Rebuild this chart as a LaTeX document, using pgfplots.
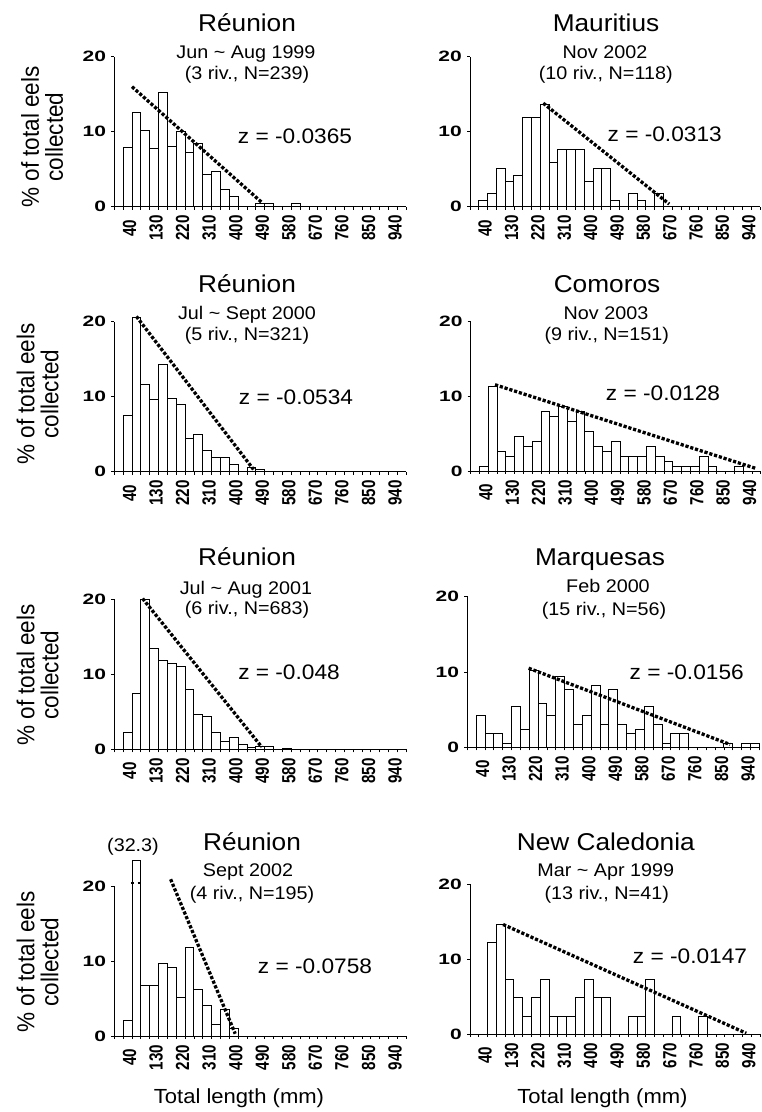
\documentclass[border=0pt]{standalone}
\usepackage{pgfplots}
\pgfplotsset{compat=1.18}
\usepackage{fontspec}
\setmainfont{Liberation Sans}[FakeStretch=1.08]
\newfontfamily\ylabfont{Liberation Sans}[FakeStretch=0.92]
\newfontfamily\ytickfont{Liberation Sans}[FakeStretch=1.4]
\newfontfamily\xtickfont{Liberation Sans}[FakeStretch=0.8]

\pgfplotsset{
  panel/.style={
    scale only axis, width=292pt, height=150pt, anchor=south west,
    xmin=-5, xmax=985, ymin=0, ymax=20,
    axis lines=left, axis line style={-, line width=0.9pt, black},
    clip=false,
    xtick={40,130,...,940},
    xticklabels={40,130,220,310,400,490,580,670,760,850,940},
    minor xtick={-5,25,...,985},
    ytick={0,10,20}, yticklabels={0,10,20}, minor ytick={0,10,20},
    major tick length=0pt, minor tick length=3pt, tick align=outside,
    tick style={black, line width=0.8pt},
    xticklabel style={font=\xtickfont\bfseries\fontsize{19}{19}\selectfont,
      yshift=-21.5pt, xshift=2pt, rotate=90, anchor=center, inner sep=0pt},
    yticklabel style={font=\ytickfont\bfseries\fontsize{15}{15}\selectfont,
      anchor=east, inner sep=0pt, xshift=-8pt},
  },
  rpanel/.style={panel, width=290pt},
  bars/.style={ybar, bar width=30, bar shift=0pt, fill=white, draw=black, line width=0.9pt},
  fit/.style={black, line width=3.3pt, dash pattern=on 3.2pt off 1.8pt, no marks, line cap=butt},
}
\newcommand{\ttl}[3]{\node[anchor=base, inner sep=0pt, font=\fontsize{24.3}{24.3}\selectfont] at (#1pt,#2pt) {#3};}
\newcommand{\sub}[3]{\node[anchor=base, inner sep=0pt, font=\fontsize{18.3}{18.3}\selectfont] at (#1pt,#2pt) {#3};}
\newcommand{\zz}[3]{\node[anchor=base, inner sep=0pt, font=\fontsize{21}{21}\selectfont] at (#1pt,#2pt) {#3};}
\newcommand{\ylab}[2]{\node[rotate=90, anchor=center, align=center, inner sep=0pt, font=\ylabfont\fontsize{24.5}{24}\selectfont] at (#1pt,#2pt) {\% of total eels\\collected};}
\newcommand{\xlab}[2]{\node[anchor=base, inner sep=0pt, font=\fontsize{20.4}{20.4}\selectfont] at (#1pt,#2pt) {Total length (mm)};}

\begin{document}
\begin{tikzpicture}
\useasboundingbox (0pt,0pt) rectangle (761pt,1112pt);

% ---------- Row 1 left: Reunion 1999
\begin{axis}[panel, at={(114.3pt,905.3pt)}]
\addplot[bars] coordinates {(40,7.9) (70,12.6) (100,10.1) (130,7.7) (160,15.2) (190,8.0) (220,10.0) (250,7.2) (280,8.4) (310,4.3) (340,4.7) (370,2.3) (400,1.3) (490,0.4) (520,0.4) (610,0.4)};
\addplot[fit] coordinates {(55,16.0) (497,0.5)};
\end{axis}
\ttl{247}{1080.3}{Réunion}
\sub{246}{1053.3}{Jun \textasciitilde{} Aug 1999}
\sub{247}{1032}{(3 riv., N=239)}
\zz{295}{968}{z = -0.0365}
\ylab{42}{975}

% ---------- Row 1 right: Mauritius
\begin{axis}[rpanel, at={(470pt,905.3pt)}]
\addplot[bars] coordinates {(40,0.85) (70,1.7) (100,5.1) (130,3.4) (160,4.2) (190,11.9) (220,11.9) (250,13.6) (280,5.9) (310,7.6) (340,7.6) (370,7.6) (400,3.4) (430,5.1) (460,5.1) (490,0.85) (550,1.7) (580,0.85) (640,1.7)};
\addplot[fit] coordinates {(245,13.8) (675,0.35)};
\end{axis}
\ttl{606}{1080.3}{Mauritius}
\sub{605}{1053.7}{Nov 2002}
\sub{605.7}{1032}{(10 riv., N=118)}
\zz{664.7}{970.3}{z = -0.0313}

% ---------- Row 2 left: Reunion 2000
\begin{axis}[panel, at={(114.3pt,640.3pt)}]
\addplot[bars] coordinates {(40,7.5) (70,20.6) (100,11.6) (130,9.6) (160,14.3) (190,9.7) (220,9.0) (250,4.4) (280,5.0) (310,2.8) (340,1.9) (370,1.9) (400,0.9) (460,0.6) (490,0.3)};
\addplot[fit] coordinates {(70,20.7) (467,0.3)};
\end{axis}
\ttl{247}{819.3}{Réunion}
\sub{247}{792.7}{Jul \textasciitilde{} Sept 2000}
\sub{247}{771.3}{(5 riv., N=321)}
\zz{296}{707}{z = -0.0534}
\ylab{37.5}{718}

% ---------- Row 2 right: Comoros
\begin{axis}[rpanel, at={(470.7pt,641pt)}]
\addplot[bars] coordinates {(40,0.66) (70,11.3) (100,2.65) (130,2.0) (160,4.6) (190,3.3) (220,4.0) (250,7.9) (280,7.3) (310,8.6) (340,6.6) (370,7.9) (400,5.3) (430,3.3) (460,2.65) (490,4.0) (520,2.0) (550,2.0) (580,2.0) (610,3.3) (640,2.0) (670,1.3) (700,0.66) (730,0.66) (760,0.66) (790,2.0) (820,0.66) (910,0.66)};
\addplot[fit] coordinates {(78,11.5) (968,0.35)};
\end{axis}
\ttl{607}{819.3}{Comoros}
\sub{606}{792.7}{Nov 2003}
\sub{606.7}{771.3}{(9 riv., N=151)}
\zz{663}{711.3}{z = -0.0128}

% ---------- Row 3 left: Reunion 2001
\begin{axis}[panel, at={(114.3pt,362.7pt)}]
\addplot[bars] coordinates {(40,2.2) (70,7.4) (100,20.0) (130,13.5) (160,11.9) (190,11.4) (220,11.1) (250,8.0) (280,4.7) (310,4.4) (340,2.2) (370,1.0) (400,1.6) (430,0.6) (460,0.3) (490,0.4) (520,0.4) (580,0.15)};
\addplot[fit] coordinates {(91,20.1) (495,0.3)};
\end{axis}
\ttl{247}{546}{Réunion}
\sub{246}{517.7}{Jul \textasciitilde{} Aug 2001}
\sub{247}{497}{(6 riv., N=683)}
\zz{289}{432.7}{z = -0.048}
\ylab{37.5}{437}

% ---------- Row 3 right: Marquesas
\begin{axis}[rpanel, width=292pt, height=151pt, at={(467.3pt,364.5pt)}]
\addplot[bars] coordinates {(40,4.2) (70,1.8) (100,1.8) (130,0.6) (160,5.4) (190,2.4) (220,10.2) (250,5.9) (280,4.2) (310,9.4) (340,7.7) (370,3.0) (400,4.2) (430,8.2) (460,3.0) (490,7.7) (520,3.0) (550,1.8) (580,2.4) (610,5.4) (640,3.0) (670,0.6) (700,1.8) (730,1.8) (880,0.6) (940,0.6) (970,0.6)};
\addplot[fit] coordinates {(203,10.5) (886,0.4)};
\end{axis}
\ttl{600}{546}{Marquesas}
\sub{608}{519.3}{Feb 2000}
\sub{604}{496}{(15 riv., N=56)}
\zz{686.7}{432}{z = -0.0156}

% ---------- Row 4 left: Reunion 2002
\begin{axis}[panel, at={(114.3pt,76pt)}]
\addplot[bars] coordinates {(40,2.05) (70,23.4) (100,6.7) (130,6.7) (160,9.7) (190,9.2) (220,5.1) (250,11.8) (280,6.2) (310,4.1) (340,1.5) (370,3.6) (400,1.0)};
\addplot[fit] coordinates {(186,20.9) (405,0.3)};
\draw[line width=2pt] (axis cs:52,20.4) -- (axis cs:62,20.4);
\draw[line width=2pt] (axis cs:74,20.4) -- (axis cs:84,20.4);
\end{axis}
\sub{133}{260.3}{(32.3)}
\ttl{252}{261.3}{Réunion}
\sub{248}{235.3}{Sept 2002}
\sub{252}{212.7}{(4 riv., N=195)}
\zz{315}{138}{z = -0.0758}
\ylab{37.5}{150}
\xlab{239}{8.7}

% ---------- Row 4 right: New Caledonia
\begin{axis}[rpanel, at={(470pt,78pt)}]
\addplot[bars] coordinates {(70,12.2) (100,14.6) (130,7.3) (160,4.9) (190,2.4) (220,4.9) (250,7.3) (280,2.4) (310,2.4) (340,2.4) (370,4.9) (400,7.3) (430,4.9) (460,4.9) (550,2.4) (580,2.4) (610,7.3) (700,2.4) (790,2.4)};
\addplot[fit] coordinates {(108,14.6) (938,0.1)};
\end{axis}
\ttl{605.8}{261.3}{New Caledonia}
\sub{605.8}{235.3}{Mar \textasciitilde{} Apr 1999}
\sub{606.7}{212.7}{(13 riv., N=41)}
\zz{690}{148}{z = -0.0147}
\xlab{602.5}{8.7}
\end{tikzpicture}
\end{document}
